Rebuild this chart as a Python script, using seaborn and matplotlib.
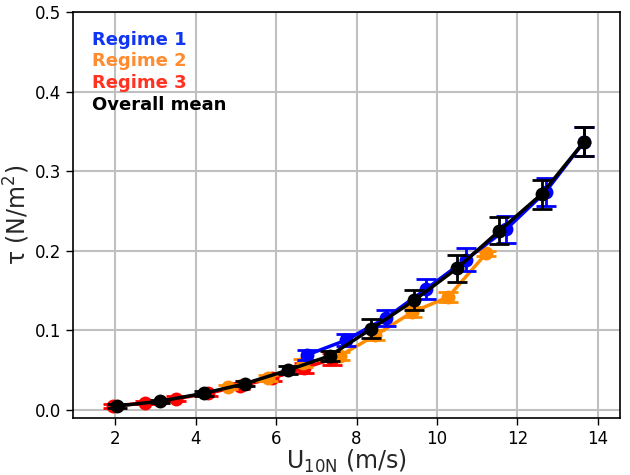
import matplotlib
matplotlib.use("Agg")
import matplotlib.pyplot as plt
import seaborn as sns
import pandas as pd

# Regime 1
r1_u = [6.76, 7.75, 8.74, 9.73, 10.72, 11.72, 12.70, 13.66]
r1_tau = [0.069, 0.088, 0.116, 0.152, 0.189, 0.227, 0.274, 0.337]
r1_err = [0.006, 0.008, 0.010, 0.012, 0.015, 0.017, 0.018, 0.018]
# Regime 2
r2_u = [4.80, 5.80, 6.66, 7.58, 8.47, 9.39, 10.28, 11.23]
r2_tau = [0.029, 0.040, 0.059, 0.068, 0.094, 0.123, 0.142, 0.197]
r2_err = [0.003, 0.004, 0.005, 0.005, 0.006, 0.006, 0.006, 0.003]
# Regime 3
r3_u = [1.95, 2.73, 3.50, 4.30, 5.10, 5.90, 6.70, 7.40]
r3_tau = [0.005, 0.009, 0.014, 0.021, 0.030, 0.040, 0.053, 0.064]
r3_err = [0.002, 0.002, 0.003, 0.003, 0.004, 0.004, 0.006, 0.007]
# Overall mean
m_u = [2.04, 3.10, 4.20, 5.22, 6.29, 7.33, 8.37, 9.44, 10.50, 11.55, 12.60, 13.66]
m_tau = [0.005, 0.011, 0.021, 0.033, 0.050, 0.068, 0.102, 0.138, 0.178, 0.225, 0.271, 0.337]
m_err = [0.002, 0.002, 0.003, 0.003, 0.005, 0.006, 0.012, 0.013, 0.017, 0.017, 0.018, 0.018]

labels = ["Regime 1", "Regime 2", "Regime 3", "Overall mean"]
colors = ["#0000ff", "#ff8c00", "#ff0000", "#000000"]
text_colors = ["#1035f5", "#ff8c30", "#ff3322", "#000000"]

sns.set_style("whitegrid")
plt.rcParams['font.family'] = ['DejaVu Sans']
plt.rcParams['mathtext.default'] = 'regular'

fig = plt.figure(figsize=(6.3, 4.75), dpi=100)
ax = fig.add_axes([0.116, 0.12, 0.868, 0.855])

series = [(r3_u, r3_tau, r3_err, colors[2], labels[2]),
          (r2_u, r2_tau, r2_err, colors[1], labels[1]),
          (r1_u, r1_tau, r1_err, colors[0], labels[0]),
          (m_u, m_tau, m_err, colors[3], labels[3])]

for i, (u, t, e, c, lab) in enumerate(series):
    df = pd.DataFrame({"u": u, "tau": t})
    sns.lineplot(data=df, x="u", y="tau", ax=ax, color=c, marker="o",
                 markersize=10, markeredgewidth=0, linewidth=2.5,
                 zorder=3 + i, label=lab, legend=False)
    ax.errorbar(u, t, yerr=e, fmt="none", ecolor=c, elinewidth=2,
                capsize=7, capthick=2, zorder=3 + i)

ax.set_xlim(0.95, 14.55)
ax.set_ylim(-0.01, 0.5)
ax.set_xticks([2, 4, 6, 8, 10, 12, 14])
ax.set_yticks([0.0, 0.1, 0.2, 0.3, 0.4, 0.5])
ax.set_yticklabels(["0.0", "0.1", "0.2", "0.3", "0.4", "0.5"])
ax.grid(True, color="#c0c0c0", linewidth=1.5)
for s in ax.spines.values():
    s.set_color("black")
    s.set_linewidth(1.2)
ax.tick_params(axis="both", which="both", direction="out", length=5, width=1,
               color="black", labelsize=12, labelcolor="black", left=True, bottom=True)

ax.set_xlabel("U$_{10N}$ (m/s)", fontsize=17, labelpad=0)
ax.set_ylabel("τ (N/m$^2$)", fontsize=17, labelpad=2)

handles = [plt.Line2D([], [], linestyle="none") for _ in labels]
leg = ax.legend(handles, labels, loc="upper left", frameon=False,
                handlelength=0, handletextpad=0,
                borderaxespad=0.65, labelspacing=0.2,
                prop={"weight": "bold", "size": 13})
for txt, c in zip(leg.get_texts(), text_colors):
    txt.set_color(c)

fig.savefig("out.png", dpi=100)
